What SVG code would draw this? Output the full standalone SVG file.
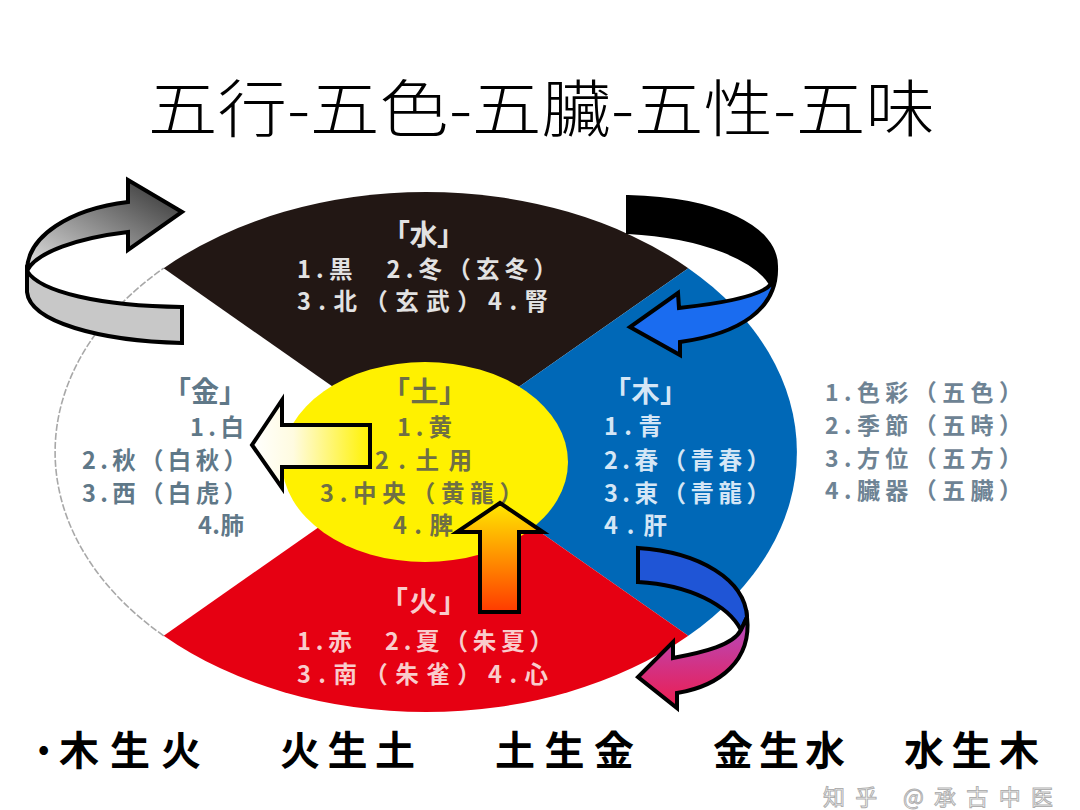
<svg xmlns="http://www.w3.org/2000/svg" width="1080" height="810" viewBox="0 0 1080 810">
<style>
.cjk{font-family:"Noto Sans CJK JP","Noto Sans CJK SC",sans-serif;dominant-baseline:central}
.hd{font-size:28px;font-weight:700}
.ln{font-size:23.5px;font-weight:700}
.w{fill:#e2e2e2}
.b{fill:#d4e6f6}
.m{fill:#5f7888}
.e{fill:#6f6f45}
.f{fill:#f9cccc}
.lg{fill:#6e8394;font-size:23px;font-weight:700}
.bt{font-size:40px;font-weight:700;fill:#000}
.arr{stroke:#000;stroke-width:4;stroke-linejoin:miter}
</style>
<defs>
<linearGradient id="gGray" x1="0" y1="1" x2="1" y2="0">
<stop offset="0" stop-color="#e4e4e4"/><stop offset="1" stop-color="#2c2c2c"/>
</linearGradient>
<linearGradient id="gPink" x1="0" y1="0" x2="0" y2="1">
<stop offset="0" stop-color="#b24cc4"/><stop offset="1" stop-color="#ee1c4e"/>
</linearGradient>
<linearGradient id="gWY" x1="0" y1="0" x2="1" y2="0">
<stop offset="0" stop-color="#ffffff"/><stop offset="0.35" stop-color="#fffbe0"/><stop offset="1" stop-color="#fff200"/>
</linearGradient>
<linearGradient id="gOr" x1="0" y1="0" x2="0" y2="1">
<stop offset="0" stop-color="#ffe800"/><stop offset="1" stop-color="#ff3a00"/>
</linearGradient>
</defs>
<rect width="1080" height="810" fill="#fff"/>

<g id="title">
<text x="148" y="105" class="cjk" style="font-size:62px;font-weight:300;fill:#000" textLength="787" lengthAdjust="spacingAndGlyphs">五行-五色-五臟-五性-五味</text>
</g>

<g id="wheel">
<path id="metal-sector" d="M426,452 L163.7,635.8 A371,260 0 0 1 163.7,268.2 Z" fill="#fff"/>
<path d="M163.7,635.8 A371,260 0 0 1 163.7,268.2" fill="none" stroke="#a8a8a8" stroke-width="1.6" stroke-dasharray="7 2"/>
<path id="water-sector" d="M426,452 L163.7,268.2 A371,260 0 0 1 688.3,268.2 Z" fill="#221714"/>
<path id="wood-sector" d="M426,452 L688.3,268.2 A371,260 0 0 1 688.3,635.8 Z" fill="#0068b7"/>
<path id="fire-sector" d="M426,452 L688.3,635.8 A371,260 0 0 1 163.7,635.8 Z" fill="#e60012"/>
<ellipse id="earth-disc" cx="425" cy="462" rx="143" ry="100" fill="#fff100"/>
</g>

<g id="water">
<text x="382" y="233" class="cjk hd w" textLength="83">「水」</text>
<text x="297" y="268" class="cjk ln w" textLength="260">1.黒　2.冬（玄冬）</text>
<text x="297" y="300" class="cjk ln w" textLength="251">3.北（玄武）4.腎</text>
</g>

<g id="wood">
<text x="603" y="390" class="cjk hd b" textLength="85">「木」</text>
<text x="604" y="425" class="cjk ln b" textLength="58">1.青</text>
<text x="604" y="459" class="cjk ln b" textLength="166">2.春（青春）</text>
<text x="604" y="492" class="cjk ln b" textLength="166">3.東（青龍）</text>
<text x="604" y="524" class="cjk ln b" textLength="63">4.肝</text>
</g>

<g id="metal">
<text x="163" y="390" class="cjk hd m" textLength="84">「金」</text>
<text x="190" y="426" class="cjk ln m" textLength="54">1.白</text>
<text x="82" y="459" class="cjk ln m" textLength="165">2.秋（白秋）</text>
<text x="82" y="492" class="cjk ln m" textLength="165">3.西（白虎）</text>
<text x="198" y="524" class="cjk ln m" textLength="46">4.肺</text>
</g>

<g id="earth">
<text x="382" y="390" class="cjk hd e" textLength="85">「土」</text>
<text x="397" y="426" class="cjk ln e" textLength="55">1.黄</text>
<text x="375" y="459" class="cjk ln e" textLength="97">2.土用</text>
<text x="320" y="492" class="cjk ln e" textLength="203">3.中央（黄龍）</text>
<text x="393" y="524" class="cjk ln e" textLength="60">4.脾</text>
</g>

<g id="fire">
<text x="380" y="600" class="cjk hd f" textLength="87">「火」</text>
<text x="297" y="640" class="cjk ln f" textLength="256">1.赤　2.夏（朱夏）</text>
<text x="297" y="673" class="cjk ln f" textLength="251">3.南（朱雀）4.心</text>
</g>

<g id="legend">
<text x="825" y="391" class="cjk lg" textLength="197">1.色彩（五色）</text>
<text x="825" y="424" class="cjk lg" textLength="197">2.季節（五時）</text>
<text x="825" y="457" class="cjk lg" textLength="197">3.方位（五方）</text>
<text x="825" y="489" class="cjk lg" textLength="197">4.臟器（五臟）</text>
</g>

<g id="connectors">
<path class="arr" d="M27,271 C40,292 100,306 182,307 L182,343 C100,341 30,322 27,292 Z" fill="#c8c8c8"/>
<path class="arr" d="M27,271 C27,236 70,209 128,202 L128,180 L182,212 L128,250 L128,232 C78,238 36,252 27,271 Z" fill="url(#gGray)"/>
<path class="arr" d="M628,197 C718,199 776,228 776,266 L771,284 C757,260 705,236 628,232 Z" fill="#000"/>
<path class="arr" d="M776,266 C778,310 738,334 680,342 L680,355 L630,327 L678,293 L679,308 C725,303 762,296 771,284 Z" fill="#1a6cf0"/>
<path class="arr" d="M638,548 C700,552 745,580 747,617 L741,630 C728,605 690,585 638,582 Z" fill="#1f55d6"/>
<path class="arr" d="M747,617 C752,660 720,686 677,693 L677,708 L638,677 L673,642 L673,658 C705,652 733,645 741,630 Z" fill="url(#gPink)"/>
<path class="arr" d="M370,425 L282,425 L282,400 L252,445 L282,488 L282,467 L370,467 Z" fill="url(#gWY)"/>
<path class="arr" d="M480,612 L480,532 L457,532 L500,503 L543,532 L519,532 L519,612 Z" fill="url(#gOr)"/>
</g>

<g id="bottom-text">
<text x="38" y="746" class="cjk bt" style="font-size:30px">•</text>
<text x="59" y="748" class="cjk bt" textLength="142">木生火</text>
<text x="280" y="748" class="cjk bt" textLength="135">火生土</text>
<text x="495" y="748" class="cjk bt" textLength="139">土生金</text>
<text x="713" y="748" class="cjk bt" textLength="132">金生水</text>
<text x="904" y="748" class="cjk bt" textLength="135">水生木</text>
</g>

<g id="watermark">
<text x="823" y="795" class="cjk" style="font-size:22px;fill:#ffffff;fill-opacity:0.85;stroke:#9a9a9a;stroke-width:1;stroke-opacity:0.8" textLength="230">知乎 @承古中医</text>
</g>
</svg>
